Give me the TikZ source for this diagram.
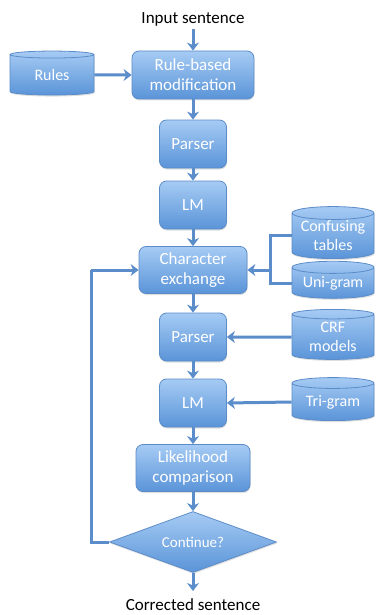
\documentclass[tikz,border=0pt]{standalone}
\usepackage{fontspec}
\setmainfont{Carlito}
\usetikzlibrary{shapes.geometric,arrows.meta,shadows}
\definecolor{boxtop}{HTML}{A6CBF4}
\definecolor{boxbot}{HTML}{5A94D8}
\definecolor{boxline}{HTML}{5B8CC8}
\definecolor{arr}{HTML}{5B8DCB}
\tikzset{
  procbox/.style={rectangle, rounded corners=7pt, draw=boxline, line width=0.8pt,
    top color=boxtop, bottom color=boxbot, text=white, font=\fontsize{17}{20}\selectfont,
    align=center, inner sep=0pt,
    drop shadow={opacity=0.25, shadow xshift=0.6pt, shadow yshift=-1.5pt}},
  dbase/.style={cylinder, shape border rotate=90, aspect=0.2, draw=boxline, line width=0.8pt,
    top color=boxtop, bottom color=boxbot, text=white, font=\fontsize{16}{19}\selectfont,
    align=center, inner sep=0pt,
    drop shadow={opacity=0.25, shadow xshift=0.6pt, shadow yshift=-1.5pt}},
  decide/.style={diamond, draw=boxline, line width=0.8pt, aspect=2.7,
    top color=boxtop, bottom color=boxbot, text=white, font=\fontsize{15}{18}\selectfont,
    inner sep=0pt, drop shadow={opacity=0.25, shadow xshift=0.6pt, shadow yshift=-1.5pt}},
  flow/.style={draw=arr, line width=3pt, -{Stealth[length=8pt,width=12pt,inset=2.5pt]}},
  link/.style={draw=arr, line width=3pt},
  plain/.style={font=\fontsize{17}{20}\selectfont, text=black}
}
\begin{document}
\begin{tikzpicture}[x=1pt,y=-1pt]
\useasboundingbox (0,0) rectangle (376,615);
\node[plain] (in) at (193,19) {Input sentence};
\node[procbox, minimum width=122pt, minimum height=48pt] (rule) at (193,75) {Rule-based\\modification};
\node[dbase, minimum width=84pt, minimum height=44pt] (rules) at (52,75) {Rules};
\node[procbox, minimum width=67pt, minimum height=48pt] (p1) at (193,144) {Parser};
\node[procbox, minimum width=67pt, minimum height=48pt] (lm1) at (193,205) {LM};
\node[procbox, minimum width=108pt, minimum height=47pt] (ce) at (193,270) {Character\\exchange};
\node[dbase, minimum width=82pt, minimum height=52pt] (conf) at (333,236) {Confusing\\tables};
\node[dbase, minimum width=82pt, minimum height=37pt] (uni) at (333,283) {Uni-gram};
\node[procbox, minimum width=67pt, minimum height=48pt] (p2) at (193,337) {Parser};
\node[dbase, minimum width=82pt, minimum height=50pt] (crf) at (333,337) {CRF\\models};
\node[procbox, minimum width=67pt, minimum height=48pt] (lm2) at (193,403) {LM};
\node[dbase, minimum width=82pt, minimum height=43pt] (tri) at (333,402) {Tri-gram};
\node[procbox, minimum width=114pt, minimum height=47pt] (lik) at (193,468) {Likelihood\\comparison};
\node[decide, minimum width=167pt, minimum height=61pt] (cont) at (193,542) {Continue?};
\node[plain] (out) at (193,605) {Corrected sentence};
\coordinate (outtop) at (193,591);
\coordinate (junc) at (270,270);
\coordinate (loopL) at (91,542);
\coordinate (loopT) at (91,270);

\draw[flow] (in.south) -- (rule.north);
\draw[flow] (rules.east) -- (rule.west);
\draw[flow] (rule.south) -- (p1.north);
\draw[flow] (p1.south) -- (lm1.north);
\draw[flow] (lm1.south) -- (ce.north);
\draw[flow] (ce.south) -- (p2.north);
\draw[flow] (p2.south) -- (lm2.north);
\draw[flow] (lm2.south) -- (lik.north);
\draw[flow] (lik.south) -- (cont.north);
\draw[flow] (cont.south) -- (outtop);
\draw[link] (conf.west) -| (junc) |- (uni.west);
\draw[flow] (junc) -- (ce.east);
\draw[flow] (crf.west) -- (p2.east);
\draw[flow] (tri.west) -- (lm2.east);
\draw[link, line join=miter] (cont.west) -- (loopL) -- (loopT);
\draw[flow] (loopT) -- (ce.west);
\end{tikzpicture}
\end{document}
